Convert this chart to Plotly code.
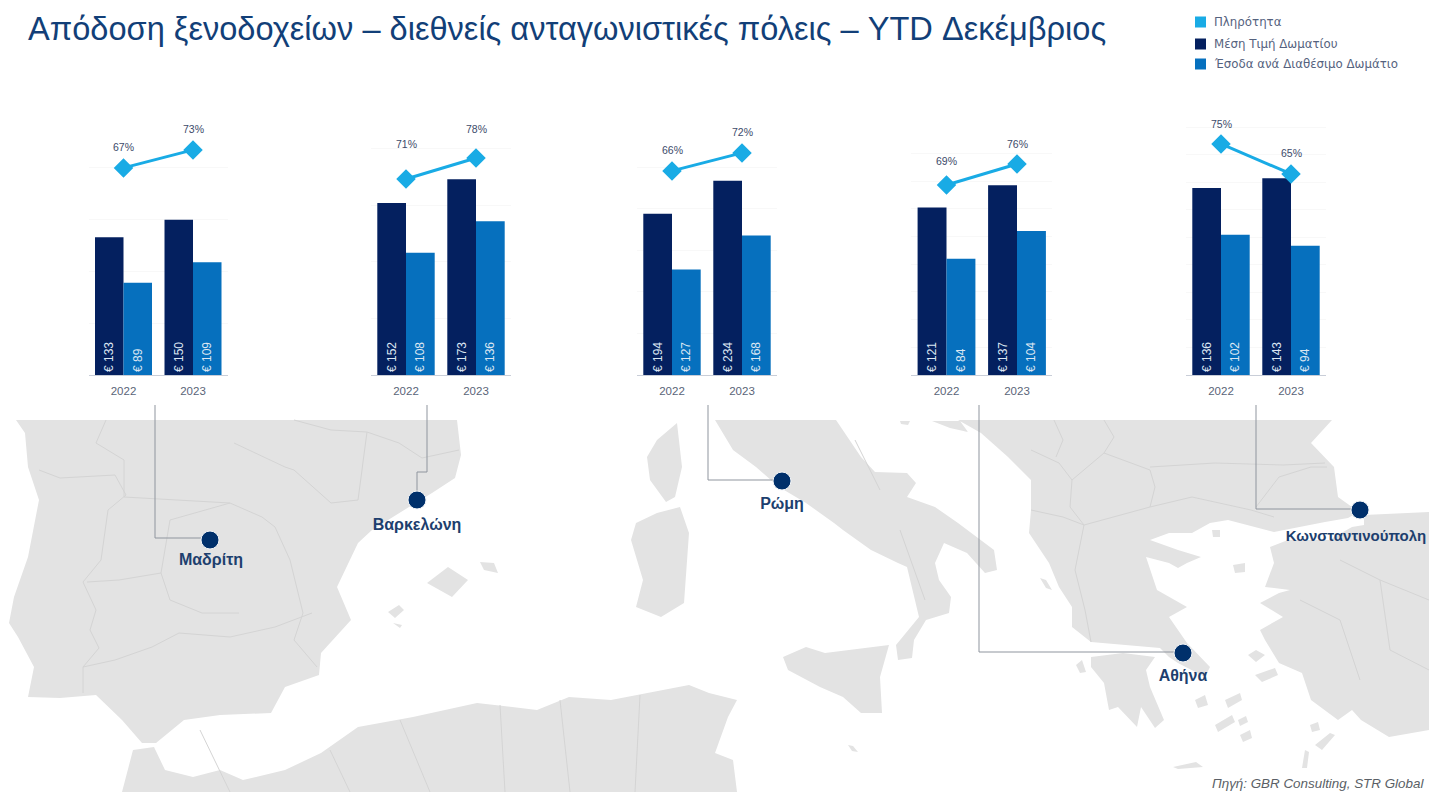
import plotly.graph_objects as go

W, H = 1429, 792
TITLE = "Απόδοση ξενοδοχείων – διεθνείς ανταγωνιστικές πόλεις – YTD Δεκέμβριος"
SOURCE = "Πηγή: GBR Consulting, STR Global"
years = ["2022", "2023"]
series_names = ["Πληρότητα", "Μέση Τιμή Δωματίου", "Έσοδα ανά Διαθέσιμο Δωμάτιο"]
cities = ["Μαδρίτη", "Βαρκελώνη", "Ρώμη", "Αθήνα", "Κωνσταντινούπολη"]

occupancy = [[67, 73], [71, 78], [66, 72], [69, 76], [75, 65]]
adr = [[133, 150], [152, 173], [194, 234], [121, 137], [136, 143]]
revpar = [[89, 109], [108, 136], [127, 168], [84, 104], [102, 94]]

# background geography, in picture units
land = [
    [(16,420),(457,420),(461,455),(455,478),(432,493),(409,507),(372,530),(358,543),(337,587),(351,620),(321,653),(319,675),(285,687),(271,713),(220,715),(184,720),(156,743),(142,743),(122,720),(96,695),(60,698),(28,697),(34,667),(18,637),(9,623),(14,597),(28,557),(39,500),(28,467),(25,433)],
    [(122,792),(133,750),(154,747),(165,770),(193,777),(220,770),(243,780),(285,770),(321,753),(358,727),(413,717),(477,703),(537,710),(569,697),(611,700),(689,685),(709,693),(737,700),(728,717),(715,753),(733,760),(737,792)],
    [(647,457),(657,440),(677,423),(682,467),(675,497),(666,502),(650,480)],
    [(636,523),(657,513),(680,507),(689,533),(684,603),(661,617),(636,607),(643,580),(631,540)],
    [(427,583),(448,567),(468,580),(452,597)],
    [(480,562),(494,563),(498,573),(484,570)],
    [(388,612),(399,605),(404,610),(395,618)],
    [(393,623),(402,625),(400,628)],
    [(715,420),(836,420),(861,457),(875,472),(907,473),(916,483),(907,497),(935,507),(958,523),(994,550),(997,570),(985,573),(967,553),(944,543),(935,563),(939,580),(951,597),(949,613),(926,620),(914,640),(912,658),(898,660),(896,645),(919,617),(907,567),(898,563),(871,550),(843,530),(834,523),(806,503),(779,487),(756,467),(733,450)],
    [(783,657),(806,647),(825,653),(889,645),(880,677),(882,713),(861,713),(843,697),(820,687),(788,670)],
    [(958,420),(1332,420),(1311,443),(1334,467),(1338,497),(1359,512),(1348,518),(1325,522),(1274,532),(1228,520),(1210,523),(1192,533),(1169,533),(1150,540),(1178,550),(1201,557),(1187,563),(1178,568),(1169,563),(1146,557),(1157,590),(1187,607),(1169,617),(1187,643),(1210,667),(1205,677),(1178,663),(1169,657),(1160,648),(1091,642),(1072,627),(1072,607),(1059,587),(1049,563),(1029,533),(1031,510),(1031,480),(1008,457),(981,433)],
    [(1364,515),(1429,512),(1429,730),(1389,737),(1361,720),(1352,710),(1338,720),(1311,700),(1302,673),(1279,663),(1265,640),(1260,630),(1283,617),(1260,603),(1279,593),(1290,590),(1265,587),(1274,563),(1270,547),(1288,540),(1329,540),(1352,527),(1364,525)],
    [(1091,657),(1123,653),(1155,657),(1146,670),(1150,687),(1164,720),(1155,728),(1141,707),(1137,727),(1118,707),(1109,710),(1104,683),(1091,667)],
    [(1173,767),(1196,762),(1203,767),(1178,769)],
    [(848,745),(853,746),(858,752),(852,751)],
    [(1302,768),(1305,750),(1309,752),(1307,768)],
    [(1315,745),(1330,733),(1335,735),(1322,750)],
    [(1076,665),(1082,660),(1086,672),(1080,673)],
    [(1040,578),(1046,580),(1052,590),(1046,588)],
    [(1233,565),(1245,563),(1245,572),(1235,573)],
    [(1212,530),(1220,530),(1220,537),(1213,537)],
    [(1248,655),(1256,650),(1265,655),(1256,662)],
    [(1225,700),(1240,693),(1242,700),(1228,708)],
    [(1255,675),(1275,668),(1278,675),(1262,682)],
    [(1215,725),(1232,715),(1235,722),(1218,732)],
    [(1240,735),(1250,730),(1252,738),(1243,742)],
    [(1310,725),(1318,722),(1320,730),(1312,732)],
    [(1195,700),(1205,695),(1208,705),(1198,708)],
    [(1238,720),(1246,716),(1248,722),(1240,726)],
    [(900,421),(910,421),(908,425),(901,424)],
    [(932,421),(960,421),(968,432),(950,428)],
]
borders = [
    [(39,470),(60,478),(115,475),(126,495),(108,510),(101,560),(83,582),(96,610),(90,630),(99,648),(83,667),(83,693)],
    [(106,420),(96,443),(124,460),(124,497)],
    [(294,420),(331,430),(367,432),(399,443),(422,458),(459,450)],
    [(367,432),(358,500)],
    [(234,443),(285,467),(294,470),(331,503),(358,500)],
    [(124,497),(184,500),(230,503),(262,517),(275,527)],
    [(87,582),(119,580),(161,573),(170,600),(202,613),(239,613)],
    [(83,667),(115,660),(152,647),(179,633),(230,637),(275,627),(312,613)],
    [(303,613),(294,640),(317,667)],
    [(161,573),(170,520),(230,503)],
    [(275,527),(290,560),(303,613)],
    [(1031,510),(1063,517),(1084,525),(1150,507),(1192,497),(1251,510),(1274,517)],
    [(1104,420),(1114,437),(1104,453),(1123,460),(1150,470),(1155,487),(1150,507)],
    [(1031,450),(1059,463),(1072,480),(1070,507),(1084,525)],
    [(1072,480),(1104,453)],
    [(1054,420),(1063,440),(1056,457)],
    [(1150,467),(1215,463),(1283,465),(1325,463)],
    [(1256,507),(1279,477),(1311,467),(1327,467)],
    [(1084,525),(1075,570),(1085,610),(1091,642)],
    [(1340,560),(1380,580),(1429,600)],
    [(1300,600),(1340,620),(1360,680)],
    [(1380,580),(1390,650),(1429,670)],
    [(200,730),(230,792)],
    [(330,750),(350,792)],
    [(500,705),(505,792)],
    [(640,695),(635,792)],
    [(400,720),(430,792)],
    [(560,700),(570,792)],
    [(855,440),(880,490)],
    [(900,530),(925,600)],
]
connectors = [
    [(155,405),(155,538),(210,538)],
    [(427,405),(427,472),(417,472),(417,495)],
    [(708,405),(708,480),(782,480)],
    [(979,405),(979,652),(1183,652)],
    [(1256,405),(1256,509),(1360,509)],
]
city_xy = [(210,540),(417,500),(782,481),(1183,653),(1360,510)]
city_label_xy = [(211,561),(417,526),(782,505),(1183,677),(1356,537)]
city_label_size = [16, 16, 16, 16, 15]

# layout of the five small charts (picture pixels)
panel_centres = [(123.5,193),(406,476),(672,742),(946.5,1017),(1221,1291)]
bar_axis_max = [241.5,221,301,180.5,181.8]
grid_step = [50,50,50,20,20]
occ_axis_range = [[-2,81.3],[5.7,89],[-2,81.3],[5.7,89],[-2,81.3]]
pct_shift = [[21,21],[35,29],[21,21],[24,20],[20,21]]
TOP, BASE = 125, 375

C_OCC, C_ADR, C_REV = "#19ABE5", "#04205F", "#0670BE"
FONT = "Liberation Sans"

def closed(polys):
    xs, ys = [], []
    for p in polys:
        xs += [q[0] for q in p] + [p[0][0], None]
        ys += [q[1] for q in p] + [p[0][1], None]
    return xs, ys

def opened(polys):
    xs, ys = [], []
    for p in polys:
        xs += [q[0] for q in p] + [None]
        ys += [q[1] for q in p] + [None]
    return xs, ys

fig = go.Figure()
x, y = closed(land)
fig.add_trace(go.Scatter(x=x, y=y, fill="toself", mode="none", fillcolor="#E3E3E3", hoverinfo="skip"))
x, y = opened(borders)
fig.add_trace(go.Scatter(x=x, y=y, mode="lines", line=dict(color="#D4D4D4", width=1), hoverinfo="skip"))
x, y = opened(connectors)
fig.add_trace(go.Scatter(x=x, y=y, mode="lines", line=dict(color="#8F959E", width=1), hoverinfo="skip"))
fig.add_trace(go.Scatter(
    x=[c[0] for c in city_xy], y=[c[1] for c in city_xy], mode="markers", text=cities, hoverinfo="text",
    marker=dict(size=18, color="#00306B", line=dict(color="#F2F5F8", width=1))))
fig.add_trace(go.Scatter(
    x=[c[0] for c in city_label_xy], y=[c[1] for c in city_label_xy], mode="text", text=cities,
    textposition="middle center", hoverinfo="skip",
    textfont=dict(family=FONT, size=city_label_size, color="#1D3F6E", weight="bold")))

layout = dict(
    width=W, height=H, autosize=False, showlegend=False,
    margin=dict(l=0, r=0, t=0, b=0, pad=0), paper_bgcolor="white", plot_bgcolor="rgba(0,0,0,0)",
    barmode="group", bargap=0.18, bargroupgap=0,
    xaxis=dict(range=[0, W], domain=[0, 1], visible=False),
    yaxis=dict(range=[H, 0], domain=[0, 1], visible=False),
)
ydom = [1 - BASE / H, 1 - TOP / H]
annots = []
for i, (c1, c2) in enumerate(panel_centres):
    n = i + 2
    step = c2 - c1
    xdom = [(c1 - step / 2) / W, (c2 + step / 2) / W]
    xa, ya, ya2 = f"x{n}", f"y{n}", f"y{n + 5}"
    for vals, nm, col in ((adr[i], series_names[1], C_ADR), (revpar[i], series_names[2], C_REV)):
        fig.add_trace(go.Bar(x=years, y=vals, name=nm, marker=dict(color=col, line=dict(width=0)),
                             xaxis=xa, yaxis=ya, texttemplate="€ %{y}", textposition="inside",
                             insidetextanchor="start", textangle=-90, constraintext="none",
                             textfont=dict(family=FONT, size=12, color="#DCE6F2")))
    fig.add_trace(go.Scatter(x=years, y=occupancy[i], name=series_names[0], mode="lines+markers",
                             line=dict(color=C_OCC, width=3),
                             marker=dict(symbol="diamond", size=15, color=C_OCC),
                             xaxis=xa, yaxis=ya2))
    layout[f"xaxis{n}"] = dict(domain=xdom, type="category", range=[-0.5, 1.5], anchor=ya,
                               showline=True, linecolor="#C9CED8", linewidth=1, ticks="outside",
                               ticklen=5, tickcolor="rgba(0,0,0,0)", showgrid=False,
                               tickfont=dict(family=FONT, size=11.5, color="#5A6478"))
    layout[f"yaxis{n}"] = dict(domain=ydom, range=[0, bar_axis_max[i]], anchor=xa, showticklabels=False,
                               showline=False, zeroline=False, ticks="", dtick=grid_step[i],
                               showgrid=True, gridcolor="#F8F8F8", gridwidth=1)
    layout[f"yaxis{n + 5}"] = dict(domain=ydom, range=occ_axis_range[i], anchor=xa, overlaying=ya,
                                   visible=False, showgrid=False)
    for j in range(len(years)):
        annots.append(dict(x=j, y=occupancy[i][j], xref=xa, yref=ya2, yshift=pct_shift[i][j], showarrow=False,
                           text=f"{occupancy[i][j]}%", font=dict(family=FONT, size=10.5, color="#3C4A6A"),
                           xanchor="center", yanchor="middle"))

annots.append(dict(x=26 / W, y=1 - 28 / H, xref="paper", yref="paper", xanchor="left", yanchor="middle",
                   showarrow=False, text=TITLE, font=dict(family=FONT, size=32.6, color="#123F78")))
annots.append(dict(x=1426 / W, y=1 - 783 / H, xref="paper", yref="paper", xanchor="right", yanchor="middle",
                   showarrow=False, text=f"<i>{SOURCE}</i>", font=dict(family=FONT, size=13.4, color="#5A5F66")))

legend_rows = [(22, C_OCC), (44, C_ADR), (64, C_REV)]
shapes = []
for (ly, col), name in zip(legend_rows, series_names):
    shapes.append(dict(type="rect", xref="paper", yref="paper", x0=1195 / W, x1=1206 / W,
                       y0=1 - (ly + 5.5) / H, y1=1 - (ly - 5.5) / H, fillcolor=col, line=dict(width=0)))
    annots.append(dict(x=1212 / W, y=1 - ly / H, xref="paper", yref="paper", xanchor="left", yanchor="middle",
                       showarrow=False, text=name, font=dict(family="DejaVu Sans", size=11.8, color="#55627E")))

layout["annotations"] = annots
layout["shapes"] = shapes
fig.update_layout(**layout)
fig.write_html("out.html", post_script="document.body.style.margin='0';", config={"displayModeBar": False})
